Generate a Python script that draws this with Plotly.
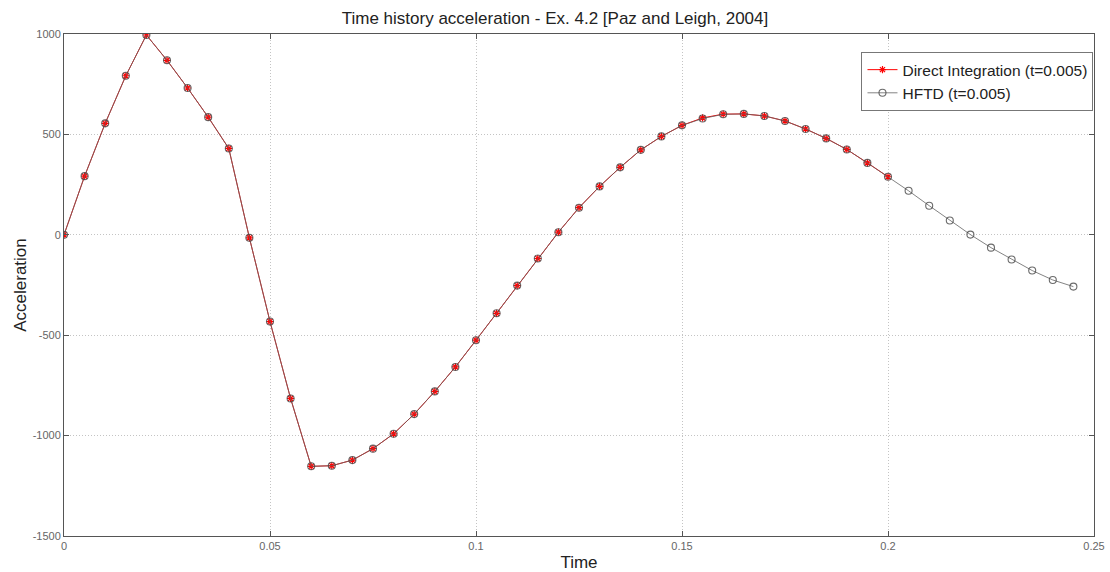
import plotly.graph_objects as go

# HFTD time steps (dt = 0.005)
t_hftd = [round(i * 0.005, 3) for i in range(50)]
acc_hftd = [0, 292, 555, 792, 995, 869, 731, 586, 430, -15,
            -432, -815, -1153, -1150, -1122, -1065, -991, -893, -780, -658,
            -525, -391, -253, -118, 13, 135, 241, 336, 423, 490,
            545, 579, 600, 602, 592, 567, 527, 480, 425, 358,
            289, 219, 145, 71, 1, -64, -123, -178, -225, -258]

# Direct integration (dt = 0.005), up to t = 0.2
t_di = [round(i * 0.005, 3) for i in range(41)]
acc_di = [0, 292, 555, 792, 995, 869, 731, 586, 430, -15,
          -432, -815, -1153, -1150, -1122, -1065, -991, -893, -780, -658,
          -525, -391, -253, -118, 13, 135, 241, 336, 423, 490,
          545, 582, 601, 602, 592, 567, 527, 480, 425, 358,
          289]

x_ticks = [0, 0.05, 0.1, 0.15, 0.2, 0.25]
x_ticktext = ["0", "0.05", "0.1", "0.15", "0.2", "0.25"]
y_ticks = [-1500, -1000, -500, 0, 500, 1000]
y_ticktext = ["-1500", "-1000", "-500", "0", "500", "1000"]

fig = go.Figure()
fig.add_trace(go.Scatter(
    x=t_di, y=acc_di, mode="lines+markers", name="Direct Integration (t=0.005)",
    line=dict(color="#ff0000", width=1),
    marker=dict(symbol="asterisk-open", size=6, color="#ff0000",
                line=dict(color="#ff0000", width=1.2)),
))
fig.add_trace(go.Scatter(
    x=t_hftd, y=acc_hftd, mode="lines+markers", name="HFTD (t=0.005)",
    line=dict(color="rgba(100,100,100,0.8)", width=1),
    marker=dict(symbol="circle-open", size=7, color="rgba(70,70,70,0.8)",
                line=dict(color="rgba(70,70,70,0.8)", width=1.1)),
))

fig.update_layout(
    width=1110, height=572,
    margin=dict(l=64, r=16, t=34, b=36),
    paper_bgcolor="white", plot_bgcolor="white",
    font=dict(family="Liberation Sans, Arial, sans-serif", color="#222"),
    title=dict(text="Time history acceleration - Ex. 4.2 [Paz and Leigh, 2004]",
               x=0.5, xanchor="center", y=0.9685, yanchor="middle",
               font=dict(size=17, color="#222")),
    showlegend=True,
    legend=dict(x=0.9995, y=0.964, xanchor="right", yanchor="top",
                bgcolor="white", bordercolor="#777", borderwidth=1,
                font=dict(size=15.5, color="#222"), tracegroupgap=0),
)
fig.update_xaxes(
    range=[0, 0.25], tickvals=x_ticks, ticktext=x_ticktext,
    showgrid=True, gridcolor="#c4c4c4", griddash="1px,2px", gridwidth=1,
    showline=True, linecolor="#555", linewidth=1, mirror="ticks",
    ticks="inside", ticklen=5, tickcolor="#555",
    tickfont=dict(size=11, color="#666"), zeroline=False, automargin=False,
    title=dict(text="Time", font=dict(size=17, color="#222"), standoff=4),
)
fig.update_yaxes(
    range=[-1500, 1000], tickvals=y_ticks, ticktext=y_ticktext,
    showgrid=True, gridcolor="#c4c4c4", griddash="1px,2px", gridwidth=1,
    showline=True, linecolor="#555", linewidth=1, mirror="ticks",
    ticks="inside", ticklen=5, tickcolor="#555",
    tickfont=dict(size=11, color="#666"), zeroline=False, automargin=False,
    title=dict(text="Acceleration", font=dict(size=17, color="#222"), standoff=1),
)

fig.write_html("out.html")
